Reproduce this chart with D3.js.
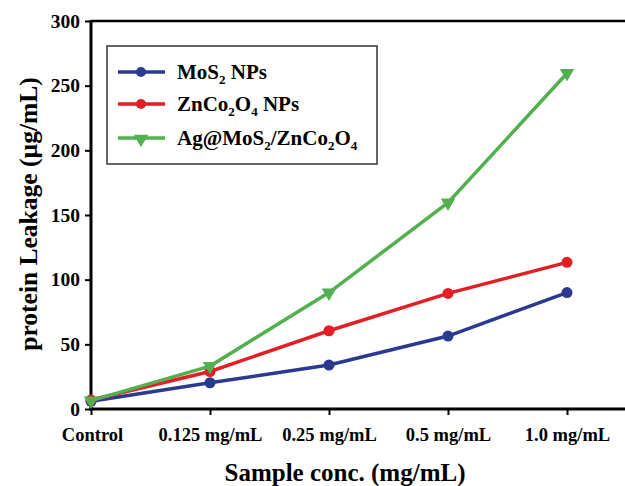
<!DOCTYPE html>
<html>
<head>
<meta charset="utf-8">
<script src="https://cdn.jsdelivr.net/npm/d3@7"></script>
<style>
  body { margin: 0; background: #fff; }
  text { font-family: "Liberation Serif", "Times New Roman", serif; font-weight: bold; }
</style>
</head>
<body>
<div id="chart"></div>
<script>
// data
const categories = ["Control", "0.125 mg/mL", "0.25 mg/mL", "0.5 mg/mL", "1.0 mg/mL"];
const mos2 = [6, 20.3, 34, 56.4, 90];
const znco = [7, 29, 60.5, 89.4, 113.4];
const agmos = [6.5, 33.2, 90, 159.5, 259.6];
const yTicks = [0, 50, 100, 150, 200, 250, 300];

const width = 625, height = 486;
const margin = {left: 91, top: 21, bottom: 409};

const series = [
  {name: [["MoS"], ["2", "sub"], [" NPs"]], values: mos2, color: "#2b3990", marker: "circle"},
  {name: [["ZnCo"], ["2", "sub"], ["O"], ["4", "sub"], [" NPs"]], values: znco, color: "#e31e24", marker: "circle"},
  {name: [["Ag@MoS"], ["2", "sub"], ["/ZnCo"], ["2", "sub"], ["O"], ["4", "sub"]], values: agmos, color: "#52b04e", marker: "tri"}
];

const svg = d3.select("#chart").append("svg")
    .attr("width", width)
    .attr("height", height);

const x = d3.scalePoint()
    .domain(categories)
    .range([margin.left, 567]);

const y = d3.scaleLinear()
    .domain([0, 300])
    .range([margin.bottom, margin.top]);

// top border
svg.append("line")
    .attr("x1", margin.left).attr("x2", width)
    .attr("y1", y(300)).attr("y2", y(300))
    .attr("stroke", "#000").attr("stroke-width", 2.5);

// y axis
const yAxis = svg.append("g")
    .attr("transform", `translate(${margin.left},0)`)
    .call(d3.axisLeft(y).tickValues(yTicks).tickSize(6).tickPadding(5));
yAxis.select(".domain").remove();
yAxis.selectAll(".tick line").attr("stroke-width", 2);
yAxis.selectAll(".tick text").attr("font-size", 19.5).attr("fill", "#000")
    .style("font-family", "Liberation Serif").style("font-weight", "bold");
svg.append("line")
    .attr("x1", margin.left).attr("x2", margin.left)
    .attr("y1", y(300) - 1).attr("y2", y(0) + 1.5)
    .attr("stroke", "#000").attr("stroke-width", 3);

// x axis
const xAxis = svg.append("g")
    .attr("transform", `translate(0,${margin.bottom})`)
    .call(d3.axisBottom(x).tickSize(6).tickPadding(13));
xAxis.select(".domain").remove();
xAxis.selectAll(".tick line").attr("stroke-width", 2);
xAxis.selectAll(".tick text").attr("font-size", 18.5).attr("fill", "#000")
    .style("font-family", "Liberation Serif").style("font-weight", "bold");
xAxis.selectAll(".tick").filter((d, i) => i === 0).select("text").attr("dx", 1);
svg.append("line")
    .attr("x1", margin.left - 1.5).attr("x2", width)
    .attr("y1", margin.bottom).attr("y2", margin.bottom)
    .attr("stroke", "#000").attr("stroke-width", 3);

// axis titles
svg.append("text")
    .attr("transform", `translate(37,${(margin.top + margin.bottom) / 2 - 1}) rotate(-90)`)
    .attr("text-anchor", "middle")
    .attr("font-size", 25.5)
    .text("protein Leakage (\u00b5g/mL)");

svg.append("text")
    .attr("x", 345).attr("y", 481)
    .attr("text-anchor", "middle")
    .attr("font-size", 25)
    .text("Sample conc. (mg/mL)");

// lines + markers
const line = d3.line()
    .x((d, i) => x(categories[i]))
    .y(d => y(d));

const tri = d3.symbol().type(d3.symbolTriangle).size(90);

series.forEach(s => {
  svg.append("path")
      .datum(s.values)
      .attr("fill", "none")
      .attr("stroke", s.color)
      .attr("stroke-width", 3.5)
      .attr("d", line);

  const g = svg.append("g").attr("fill", s.color);
  if (s.marker === "circle") {
    g.selectAll("circle").data(s.values).join("circle")
        .attr("cx", (d, i) => x(categories[i]))
        .attr("cy", d => y(d))
        .attr("r", 5.5);
  } else {
    g.selectAll("path").data(s.values).join("path")
        .attr("d", tri)
        .attr("transform", (d, i) => `translate(${x(categories[i])},${y(d)}) rotate(180)`);
  }
});

// legend
const legend = svg.append("g");
legend.append("rect")
    .attr("x", 107).attr("y", 46)
    .attr("width", 270).attr("height", 118)
    .attr("fill", "#fff")
    .attr("stroke", "#333").attr("stroke-width", 1.5);

const rowY = [72, 104, 138];
series.forEach((s, i) => {
  const ly = rowY[i];
  legend.append("line")
      .attr("x1", 118).attr("x2", 165)
      .attr("y1", ly).attr("y2", ly)
      .attr("stroke", s.color).attr("stroke-width", 3.5);
  if (s.marker === "circle") {
    legend.append("circle").attr("cx", 141).attr("cy", ly).attr("r", 5).attr("fill", s.color);
  } else {
    legend.append("path").attr("d", tri).attr("fill", s.color)
        .attr("transform", `translate(141,${ly + 1}) rotate(180)`);
  }
  const t = legend.append("text")
      .attr("x", 177).attr("y", ly + 7)
      .attr("font-size", 21);
  s.name.forEach(part => {
    if (part[1] === "sub") {
      t.append("tspan").attr("font-size", 13).attr("dy", 5).text(part[0]);
    } else {
      const ts = t.append("tspan").text(part[0]);
      if (t.selectAll("tspan").size() > 1) ts.attr("dy", -5);
    }
  });
});
</script>
</body>
</html>
